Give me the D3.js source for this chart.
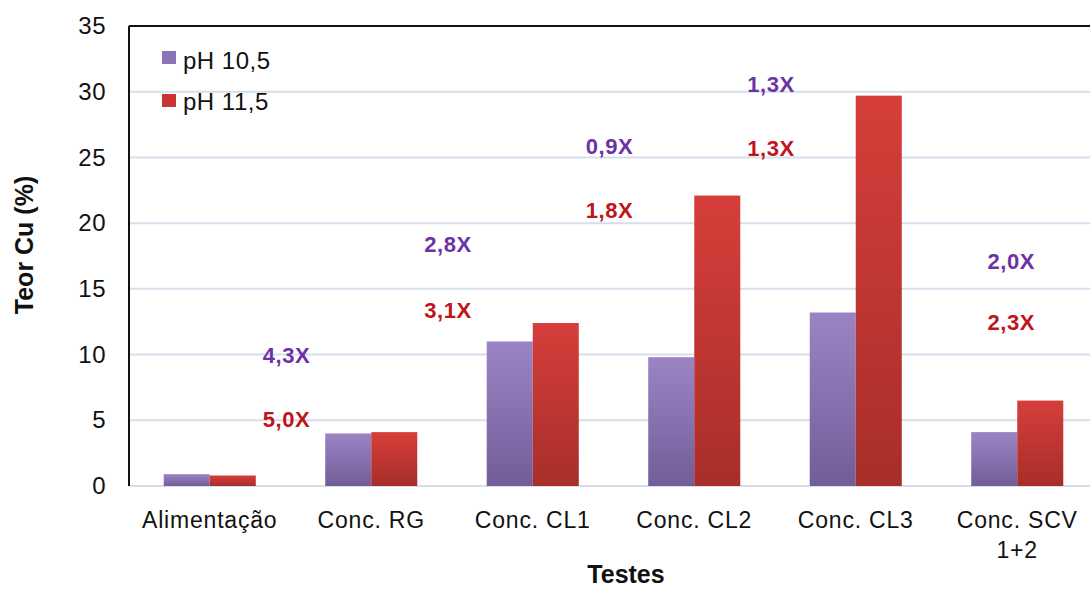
<!DOCTYPE html>
<html>
<head>
<meta http-equiv="Content-Type" content="text/html; charset=utf-8">
<script src="https://cdnjs.cloudflare.com/ajax/libs/d3/7.8.5/d3.min.js"></script>
<style>
  body { margin: 0; background: #fff; }
  svg { display: block; font-family: "Liberation Sans", Arial, sans-serif; }
</style>
</head>
<body>
<div id="chart"></div>
<script>
// ---------------- data
var categories = ["Alimentação", "Conc. RG", "Conc. CL1", "Conc. CL2", "Conc. CL3", "Conc. SCV\n1+2"];
var seriesNames = ["pH 10,5", "pH 11,5"];
var ph105 = [0.9, 4.0, 11.0, 9.8, 13.2, 4.1];
var ph115 = [0.8, 4.1, 12.4, 22.1, 29.7, 6.5];
var yTicks = [0, 5, 10, 15, 20, 25, 30, 35];

// enrichment ratios shown above the bars
var ratio105 = ["4,3X", "2,8X", "0,9X", "1,3X", "2,0X"];
var ratio115 = ["5,0X", "3,1X", "1,8X", "1,3X", "2,3X"];
var ratioLevel105 = [10.0, 18.4, 25.9, 30.6, 17.1];
var ratioLevel115 = [5.1, 13.4, 21.0, 25.7, 12.5];

// ---------------- svg
var width = 1090, height = 590;
var margin = {top: 26, left: 129, bottom: 103};
var plotW = 969;

var svg = d3.select("#chart").append("svg")
  .attr("width", width)
  .attr("height", height);

var defs = svg.append("defs");
function grad(id, top, bottom) {
  var g = defs.append("linearGradient").attr("id", id)
    .attr("x1", 0).attr("y1", 0).attr("x2", 0).attr("y2", 1);
  g.append("stop").attr("offset", "0%").attr("stop-color", top);
  g.append("stop").attr("offset", "100%").attr("stop-color", bottom);
}
grad("gPurple", "#9b84c4", "#735d98");
grad("gRed", "#d63e3a", "#a72e2a");
var fills = ["url(#gPurple)", "url(#gRed)"];
var legendColors = ["#8c73b8", "#c83532"];

var x = d3.scaleBand()
  .domain(d3.range(categories.length))
  .range([margin.left, margin.left + plotW])
  .paddingInner(0.43)
  .paddingOuter(0.215);

var xs = d3.scaleBand().domain([0, 1]).range([0, x.bandwidth()]);

var y = d3.scaleLinear()
  .domain([0, 35])
  .range([height - margin.bottom - 1, margin.top]);

// gridlines
svg.append("g")
  .selectAll("line")
  .data(yTicks.slice(0, -1))
  .enter()
  .append("line")
  .attr("x1", margin.left)
  .attr("x2", width)
  .attr("y1", function(d){ return y(d); })
  .attr("y2", function(d){ return y(d); })
  .attr("stroke", "#d5deeb")
  .attr("stroke-width", 2);

// frame (left + top)
svg.append("line")
  .attr("x1", margin.left).attr("x2", width)
  .attr("y1", y(35)).attr("y2", y(35))
  .attr("stroke", "#111").attr("stroke-width", 2);
svg.append("line")
  .attr("x1", margin.left).attr("x2", margin.left)
  .attr("y1", y(35)).attr("y2", y(0))
  .attr("stroke", "#111").attr("stroke-width", 2);

// y axis
var yAxis = d3.axisLeft(y).tickValues(yTicks).tickSize(0).tickPadding(23);
var gy = svg.append("g").attr("transform", "translate(" + margin.left + ",0)").call(yAxis);
gy.select(".domain").remove();
gy.selectAll("text")
  .attr("font-size", 24)
  .attr("letter-spacing", 0.5)
  .attr("font-family", "Liberation Sans, Arial, sans-serif")
  .attr("fill", "#111");

// bars
var series = [ph105, ph115];
series.forEach(function(vals, s) {
  svg.append("g")
    .selectAll("rect")
    .data(vals)
    .enter()
    .append("rect")
    .attr("x", function(d, i){ return x(i) + xs(s); })
    .attr("width", xs.bandwidth())
    .attr("y", function(d){ return y(d); })
    .attr("height", function(d){ return y(0) - y(d); })
    .attr("fill", fills[s]);
});

// x axis labels
var xl = svg.append("g");
categories.forEach(function(c, i) {
  var t = xl.append("text")
    .attr("x", x(i) + x.bandwidth() / 2)
    .attr("y", 528)
    .attr("text-anchor", "middle")
    .attr("font-size", 23)
    .attr("letter-spacing", 0.8)
    .attr("fill", "#111");
  c.split("\n").forEach(function(line, k) {
    t.append("tspan")
      .attr("x", x(i) + x.bandwidth() / 2)
      .attr("dy", k === 0 ? 0 : 30)
      .text(line);
  });
});

// axis titles
svg.append("text")
  .attr("transform", "translate(33,245) rotate(-90)")
  .attr("text-anchor", "middle")
  .attr("font-size", 25)
  .attr("font-weight", "bold")
  .attr("fill", "#111")
  .text("Teor Cu (%)");

svg.append("text")
  .attr("x", 626)
  .attr("y", 583)
  .attr("text-anchor", "middle")
  .attr("font-size", 25)
  .attr("font-weight", "bold")
  .attr("fill", "#111")
  .text("Testes");

// ratio annotations: between groups, last one over the last group
function ratioX(i) {
  if (i < 4) return (x(i) + x(i + 1)) / 2 + x.bandwidth() / 2 - 4;
  return x(5) + x.bandwidth() / 2 - 6;
}
var ratios = [[ratio105, ratioLevel105, "#6b33a6"], [ratio115, ratioLevel115, "#c0141b"]];
ratios.forEach(function(r) {
  svg.append("g")
    .selectAll("text")
    .data(r[0])
    .enter()
    .append("text")
    .attr("x", function(d, i){ return ratioX(i); })
    .attr("y", function(d, i){ return y(r[1][i]) + 8; })
    .attr("text-anchor", "middle")
    .attr("font-weight", "bold")
    .attr("font-size", 22)
    .attr("letter-spacing", 0.5)
    .attr("fill", r[2])
    .text(function(d){ return d; });
});

// legend
var legend = svg.append("g").attr("transform", "translate(162,51)");
seriesNames.forEach(function(n, i) {
  legend.append("rect")
    .attr("x", 0).attr("y", i * 43)
    .attr("width", 14).attr("height", 13)
    .attr("fill", legendColors[i]);
  legend.append("text")
    .attr("x", 21).attr("y", i * 41 + 18)
    .attr("font-size", 24)
    .attr("letter-spacing", 0.5)
    .attr("fill", "#111")
    .text(n);
});
</script>
</body>
</html>
